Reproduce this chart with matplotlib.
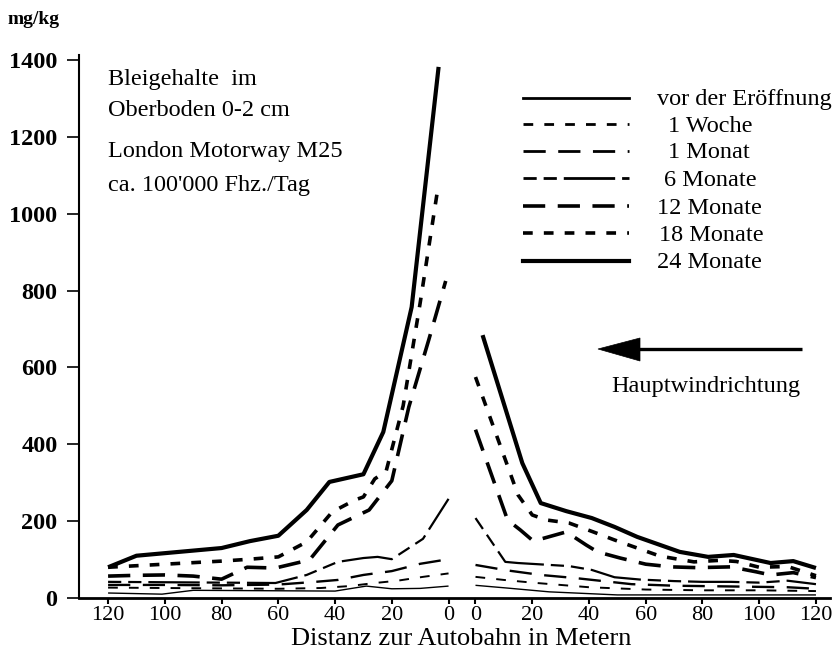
import matplotlib
matplotlib.use("Agg")
import matplotlib.pyplot as plt
from matplotlib.lines import Line2D
from matplotlib.patches import Polygon

plt.rcParams['font.family'] = ['Liberation Serif', 'DejaVu Serif']
plt.rcParams['lines.scale_dashes'] = False

# ---------------- data (distance in m, lead content in mg/kg) ----------------
series_names = ["vor der Eröffnung", "1 Woche", "1 Monat", "6 Monate",
                "12 Monate", "18 Monate", "24 Monate"]

vor_left_d = [120, 101, 90, 40, 29, 20, 10, 0]
vor_left_v = [13, 10, 20, 18, 31, 24, 25, 31]
vor_right_d = [0, 11, 26, 50, 120]
vor_right_v = [33, 26, 16, 8, 8]

w1_left_d = [120, 100, 80, 60, 45, 35, 26, 18, 9, 0]
w1_left_v = [27, 26, 25, 24, 26, 31, 39, 45, 55, 64]
w1_right_d = [0, 10, 20, 30, 40, 60, 80, 100, 120]
w1_right_v = [55, 47, 40, 34, 28, 22, 20, 20, 18]

m1_left_d = [120, 100, 80, 60, 47, 39, 30, 20, 10, 0]
m1_left_v = [34, 34, 33, 35, 42, 47, 60, 70, 89, 101]
m1_right_d = [0, 11, 23, 35, 45, 55, 70, 90, 110, 120]
m1_right_v = [86, 72, 60, 52, 44, 36, 32, 30, 28, 24]

m6_left_d = [120, 100, 80, 61, 50, 39, 30, 25, 20, 9, 0]
m6_left_v = [42, 41, 40, 39, 60, 94, 104, 107, 101, 154, 258]
m6_right_d = [0, 10.5, 15, 24, 33, 41, 49, 58, 70, 80, 90, 100, 110, 120]
m6_right_v = [208, 94, 91, 87, 83, 73, 54, 48, 44, 42, 42, 40, 45, 36]

m12_left_d = [120, 110, 100, 90, 80, 71, 61, 49, 39, 28, 20, 14, 7, 1]
m12_left_v = [57, 59, 60, 57, 49, 80, 78, 99, 190, 229, 305, 497, 671, 825]
m12_right_d = [0, 11.3, 15.8, 20.4, 32, 39, 43, 51, 60, 69, 78, 90, 99, 104, 112, 120]
m12_right_v = [438, 203, 177, 148, 172, 138, 120, 104, 88, 81, 79, 81, 68, 60, 66, 53]

m18_left_d = [120, 110, 100, 90, 80, 70, 60, 50, 41, 33, 30, 26, 22, 16, 10, 4]
m18_left_v = [80, 84, 88, 92, 96, 101, 107, 146, 224, 255, 263, 310, 330, 500, 768, 1055]
m18_right_d = [0, 15, 20, 25, 33, 41.5, 49, 57, 65, 77, 86, 92, 100, 110, 120]
m18_right_v = [575, 268, 216, 203, 195, 172, 151, 130, 109, 94, 98, 95, 80, 82, 58]

m24_left_d = [120, 110, 80, 70, 60, 50, 42, 30, 23, 13, 3.5]
m24_left_v = [80, 110, 130, 148, 162, 229, 302, 322, 432, 757, 1382]
m24_right_d = [2.5, 16.5, 23, 32, 41, 49, 57, 72, 82, 91, 104, 112, 120]
m24_right_v = [684, 351, 247, 226, 208, 185, 159, 120, 107, 112, 91, 96, 78]

y_ticks = [0, 200, 400, 600, 800, 1000, 1200, 1400]
x_tick_dist = [120, 100, 80, 60, 40, 20, 0]

# ---------------- styles ----------------
SHORT = (7, 8)
LONG = (16, 9)
MIX = (9.5, 5, 9.5, 5, 37, 5)
styles = [
    dict(lw=1.0, dashes=None),
    dict(lw=1.4, dashes=SHORT),
    dict(lw=1.7, dashes=LONG),
    dict(lw=1.6, dashes=MIX),
    dict(lw=2.6, dashes=LONG),
    dict(lw=2.6, dashes=SHORT),
    dict(lw=3.0, dashes=None),
]

left_sets = [(vor_left_d, vor_left_v), (w1_left_d, w1_left_v), (m1_left_d, m1_left_v),
             (m6_left_d, m6_left_v), (m12_left_d, m12_left_v), (m18_left_d, m18_left_v),
             (m24_left_d, m24_left_v)]
right_sets = [(vor_right_d, vor_right_v), (w1_right_d, w1_right_v), (m1_right_d, m1_right_v),
              (m6_right_d, m6_right_v), (m12_right_d, m12_right_v), (m18_right_d, m18_right_v),
              (m24_right_d, m24_right_v)]

GAP = 4.75  # half gap between the two road sides (in m-units)


def pos_left(d):
    return [-(x + GAP) for x in d]


def pos_right(d):
    return [x + GAP for x in d]


W, H = 835, 658
fig = plt.figure(figsize=(W / 100, H / 100), dpi=100)
ax = fig.add_axes([79 / W, 60 / H, 751 / W, 543.4 / H])

for (ld, lv), (rd, rv), st in zip(left_sets, right_sets, styles):
    for xs, ys in ((pos_left(ld), lv), (pos_right(rd), rv)):
        line, = ax.plot(xs, ys, color='black', lw=st['lw'],
                        solid_joinstyle='round', solid_capstyle='butt',
                        dash_capstyle='butt')
        if st['dashes'] is not None:
            line.set_dashes(st['dashes'])

ax.set_xlim(-135, 129.7)
ax.set_ylim(0, 1414)
ax.spines['top'].set_visible(False)
ax.spines['right'].set_visible(False)
ax.spines['left'].set_linewidth(1.5)
ax.spines['bottom'].set_linewidth(2.0)

ax.set_yticks(y_ticks)
ax.set_yticklabels([str(v) for v in y_ticks], fontsize=17.5, fontweight='bold')
ax.tick_params(axis='y', direction='out', length=8.5, width=1.2, pad=7)

xt = pos_left(x_tick_dist) + pos_right(x_tick_dist[::-1])
xl = [str(d) for d in x_tick_dist] + [str(d) for d in x_tick_dist[::-1]]
ax.set_xticks(xt)
ax.set_xticklabels(xl, fontsize=16)
ax.tick_params(axis='x', direction='out', length=4, width=1.5, pad=1.5)


def fx(x):
    return x / W


def fy(y):
    return 1 - y / H


fig.text(fx(8), fy(20), "mg/kg", fontsize=14, fontweight='bold', va='center', ha='left')
fig.text(fx(108), fy(80), "Bleigehalte  im", fontsize=17.5, va='center', ha='left')
fig.text(fx(108), fy(110), "Oberboden 0-2 cm", fontsize=17.5, va='center', ha='left')
fig.text(fx(108), fy(152), "London Motorway M25", fontsize=17.5, va='center', ha='left')
fig.text(fx(108), fy(185), "ca. 100'000 Fhz./Tag", fontsize=17.5, va='center', ha='left')

fig.text(fx(461), fy(639), "Distanz zur Autobahn in Metern", fontsize=19, va='center', ha='center')

# legend (drawn manually)
leg_y = [98, 124, 151, 178, 206, 233, 261]
leg_tx = [657, 668, 668, 664, 657, 659, 657]
for name, st, yy, tx in zip(series_names, styles, leg_y, leg_tx):
    ln = Line2D([fx(523), fx(629)], [fy(yy), fy(yy)], transform=fig.transFigure,
                color='black', lw=max(st['lw'], 2.0), dash_capstyle='butt')
    if st['dashes'] is not None:
        ln.set_dashes(st['dashes'])
    fig.add_artist(ln)
    fig.text(fx(tx), fy(yy + 2), name, fontsize=17.5, va='center', ha='left')

# wind direction arrow
fig.add_artist(Line2D([fx(636), fx(802)], [fy(349), fy(349)], transform=fig.transFigure,
                      color='black', lw=2.4, solid_capstyle='butt'))
fig.add_artist(Polygon([[fx(598), fy(349)], [fx(640), fy(338)], [fx(640), fy(361)]],
                       closed=True, transform=fig.transFigure, facecolor='black',
                       edgecolor='black', lw=0.5))
fig.text(fx(706), fy(386), "Hauptwindrichtung", fontsize=17.5, va='center', ha='center')

fig.savefig("out.png", dpi=100)
